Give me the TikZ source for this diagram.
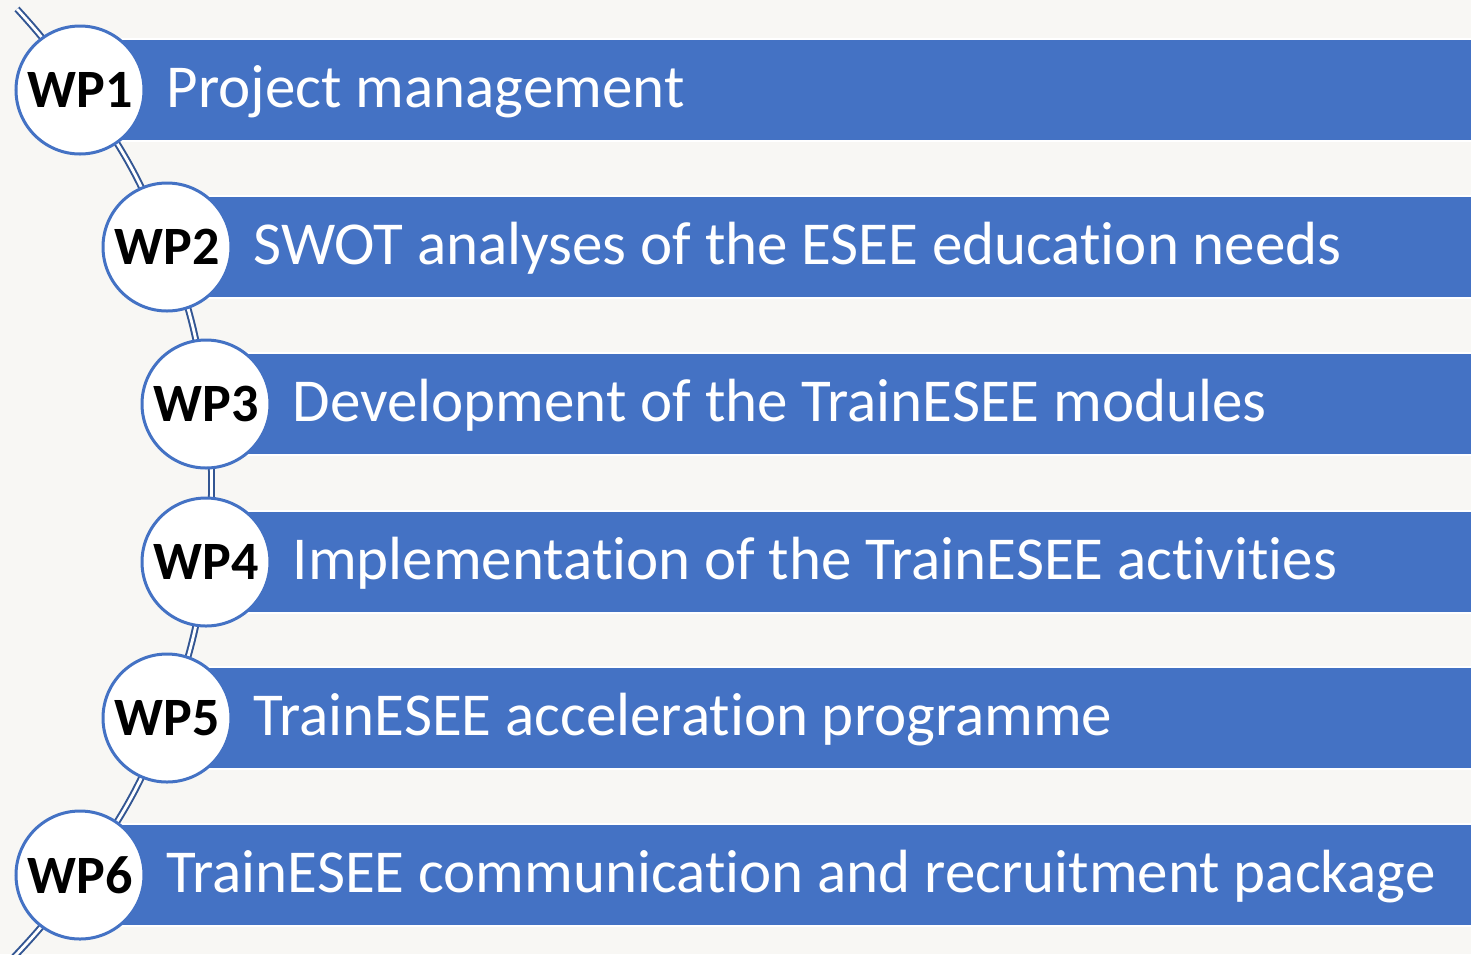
\documentclass[tikz,border=0pt]{standalone}
\usepackage{fontspec}
\setmainfont{Carlito}[Ligatures=NoCommon]
\usetikzlibrary{positioning, backgrounds}
\definecolor{wpblue}{HTML}{4472C4}
\definecolor{paper}{HTML}{F8F7F4}

\begin{document}
\begin{tikzpicture}[x=1pt, y=-1pt,
    wp/.style = {draw=wpblue, line width=3pt, fill=white, circle, minimum size=128pt, inner sep=0pt, font=\fontsize{54}{60}\selectfont\bfseries},
    bar/.style = {fill=wpblue, draw=white, line width=2.5pt, anchor=west, minimum height=102pt, inner sep=0pt},
    task/.style = {text=white, inner sep=0pt, text height=42pt, text depth=8pt, font=\fontsize{61}{70}\selectfont},
    spine/.style = {draw=wpblue!75!black, line width=2pt, double=white, double distance=2.8pt}]
    \useasboundingbox (0,0) rectangle (1471,954);

    % bars behind the circles
    \node[bar, minimum width=1400pt] (bar1) at (80,90) {};
    \node[bar, minimum width=1313pt] (bar2) at (167,247) {};
    \node[bar, minimum width=1274pt] (bar3) at (206,404) {};
    \node[bar, minimum width=1274pt] (bar4) at (206,562) {};
    \node[bar, minimum width=1313pt] (bar5) at (167,718) {};
    \node[bar, minimum width=1400pt] (bar6) at (80,875) {};

    \node[wp] (wp1) at (80,90) {WP1};
    \node[wp] (wp2) at (167,247) {WP2};
    \node[wp] (wp3) at (206,404) {WP3};
    \node[wp] (wp4) at (206,562) {WP4};
    \node[wp] (wp5) at (167,718) {WP5};
    \node[wp] (wp6) at (80,875) {WP6};

    \node[task, right=21pt of wp1] (task1) {Project management};
    \node[task, right=21pt of wp2] (task2) {SWOT analyses of the ESEE education needs};
    \node[task, right=21pt of wp3] (task3) {Development of the TrainESEE modules};
    \node[task, right=21pt of wp4] (task4) {Implementation of the TrainESEE activities};
    \node[task, right=21pt of wp5] (task5) {TrainESEE acceleration programme};
    \node[task, right=21pt of wp6] (task6) {TrainESEE communication and recruitment package};

    \begin{scope}[on background layer]
        \fill[paper] (0,0) rectangle (1471,954);
        \coordinate (top) at (17,9);
        \coordinate (bottom) at (14,957);
        \draw[spine] (top) to[bend left=4.5] (wp1.center) to[bend left=7.9] (wp2.center)
            to[bend left=7.1] (wp3.center) to[bend left=6.9] (wp4.center)
            to[bend left=7.1] (wp5.center) to[bend left=7.9] (wp6.center)
            to[bend left=4.6] (bottom);
    \end{scope}
\end{tikzpicture}
\end{document}
